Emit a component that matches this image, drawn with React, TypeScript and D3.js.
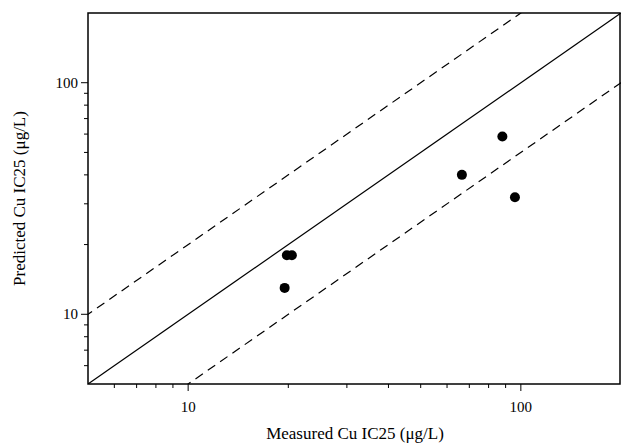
import * as d3 from "d3";

const measured = [19.5, 19.8, 20.5, 66.5, 88, 96];
const predicted = [13, 18, 18, 40, 58.6, 32];
const domain: [number, number] = [5, 200];
const majorTicks = [10, 100];
const minorTicks = [6, 7, 8, 9, 20, 30, 40, 50, 60, 70, 80, 90];
const lineFactors = [0.5, 1, 2];

export default function App() {
  const W = 622, H = 443;
  const m = { left: 88, right: 1, top: 13, bottom: 59 };
  const x = d3.scaleLog().domain(domain).range([m.left, W - m.right]);
  const y = d3.scaleLog().domain(domain).range([H - m.bottom, m.top]);
  const font = "'Liberation Serif', 'Times New Roman', serif";
  const bottom = H - m.bottom;
  const line = d3.line<number>().x((d) => x(d)).y((d) => y(d));
  return (
    <svg width={W} height={H} style={{ position: "absolute", left: 0, top: 0 }} fontFamily={font}>
      <defs>
        <clipPath id="c">
          <rect x={m.left} y={m.top} width={W - m.left - m.right} height={bottom - m.top} />
        </clipPath>
      </defs>
      <g clipPath="url(#c)">
        {lineFactors.map((f) => (
          <path key={f} d={line([domain[0] / 4, domain[1] * 4].map((v) => v)) ?? ""}
            transform={`translate(0,${y(f) - y(1)})`}
            fill="none" stroke="#000" strokeWidth={1.2}
            strokeDasharray={f === 1 ? undefined : "9,6"} />
        ))}
      </g>
      {measured.map((v, i) => (
        <circle key={i} cx={x(v)} cy={y(predicted[i])} r={5} fill="#000" />
      ))}
      <rect x={m.left} y={m.top} width={W - m.left - m.right - 1} height={bottom - m.top}
        fill="none" stroke="#000" strokeWidth={1.5} />
      {majorTicks.map((t) => (
        <g key={"x" + t}>
          <line x1={x(t)} x2={x(t)} y1={bottom} y2={bottom + 7} stroke="#000" />
          <text x={x(t)} y={bottom + 28} textAnchor="middle" fontSize={15}>{t}</text>
          <line x1={m.left} x2={m.left - 7} y1={y(t)} y2={y(t)} stroke="#000" />
          <text x={m.left - 10} y={y(t) + 5} textAnchor="end" fontSize={15}>{t}</text>
        </g>
      ))}
      {minorTicks.map((t) => (
        <g key={"m" + t}>
          <line x1={x(t)} x2={x(t)} y1={bottom} y2={bottom + 4} stroke="#000" />
          <line x1={m.left} x2={m.left - 4} y1={y(t)} y2={y(t)} stroke="#000" />
        </g>
      ))}
      <text x={(m.left + W) / 2} y={H - 4} textAnchor="middle" fontSize={17}>Measured Cu IC25 (μg/L)</text>
      <text transform={`translate(25,${(m.top + bottom) / 2}) rotate(-90)`} textAnchor="middle" fontSize={17}>
        Predicted Cu IC25 (μg/L)
      </text>
    </svg>
  );
}
